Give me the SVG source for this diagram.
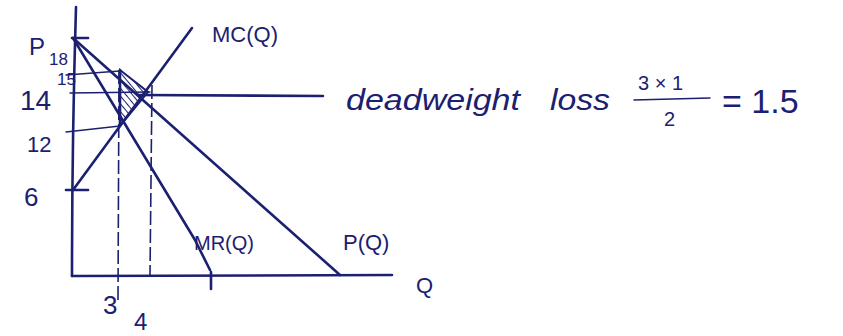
<svg xmlns="http://www.w3.org/2000/svg" width="843" height="336" viewBox="0 0 843 336">
<defs>
<style>
.ln{stroke:#1c2070;stroke-width:2.6;fill:none;stroke-linecap:round;stroke-linejoin:round}
.th{stroke:#1c2070;stroke-width:1.4;fill:none;stroke-linecap:round}
.ds{stroke:#1c2070;stroke-width:1.6;fill:none;stroke-dasharray:14 4}
.t{font-family:"Liberation Sans","DejaVu Sans",sans-serif;fill:#1c2070}
</style>
<pattern id="hatch" width="5" height="5" patternUnits="userSpaceOnUse" patternTransform="rotate(-40)">
<line x1="0" y1="0" x2="0" y2="5" stroke="#1c2070" stroke-width="2"/>
</pattern>
</defs>
<rect width="843" height="336" fill="#fff"/>
<g id="axes">
<path class="ln" d="M76,7 Q72,140 72,276"/>
<path class="ln" d="M72,276 L392,275"/>
<line class="ln" x1="72" y1="38" x2="88" y2="38"/>
<line class="ln" x1="66" y1="190" x2="88" y2="190"/>
<line class="ln" x1="211" y1="272" x2="211" y2="289"/>
</g>
<g id="guides">
<line class="th" x1="66" y1="75" x2="120" y2="71"/>
<line class="th" x1="70" y1="93" x2="150" y2="92"/>
<line class="th" x1="66" y1="132" x2="120" y2="126"/>
<line class="ds" x1="119" y1="70" x2="118" y2="300"/>
<line class="ds" x1="152" y1="85" x2="150" y2="275"/>
</g>
<g id="dwl">
<polygon points="120,70 120,126 148,92" fill="url(#hatch)" stroke="#1c2070" stroke-width="2"/>
<line class="ln" x1="120" y1="70" x2="120" y2="126" stroke-width="3.5"/>
</g>
<g id="connectors">
<line class="ln" x1="73" y1="38" x2="340" y2="275"/>
<path class="ln" d="M73,38 L195,240 L210,270"/>
<line class="ln" x1="73" y1="190" x2="192" y2="28"/>
<line class="ln" x1="138" y1="95" x2="323" y2="96"/>
</g>
<g id="labels" class="t">
<text x="29" y="55" font-size="24">P</text>
<text x="49" y="65" font-size="17">18</text>
<text x="57" y="85" font-size="17">15</text>
<text x="20" y="110" font-size="28">14</text>
<text x="27" y="152" font-size="22">12</text>
<text x="24" y="206" font-size="26">6</text>
<text x="212" y="42" font-size="22">MC(Q)</text>
<text x="194" y="250" font-size="20">MR(Q)</text>
<text x="343" y="250" font-size="22">P(Q)</text>
<text x="416" y="293" font-size="22">Q</text>
<text x="103" y="314" font-size="26">3</text>
<text x="134" y="330" font-size="24">4</text>
<text x="346" y="110" font-size="30" font-style="italic" textLength="174" lengthAdjust="spacingAndGlyphs">deadweight</text>
<text x="550" y="110" font-size="30" font-style="italic" textLength="60" lengthAdjust="spacingAndGlyphs">loss</text>
<text x="638" y="90" font-size="20">3 × 1</text>
<line class="th" x1="634" y1="100" x2="710" y2="98" stroke-width="1.8"/>
<text x="664" y="126" font-size="20">2</text>
<text x="722" y="113" font-size="34">= 1.5</text>
</g>
</svg>
